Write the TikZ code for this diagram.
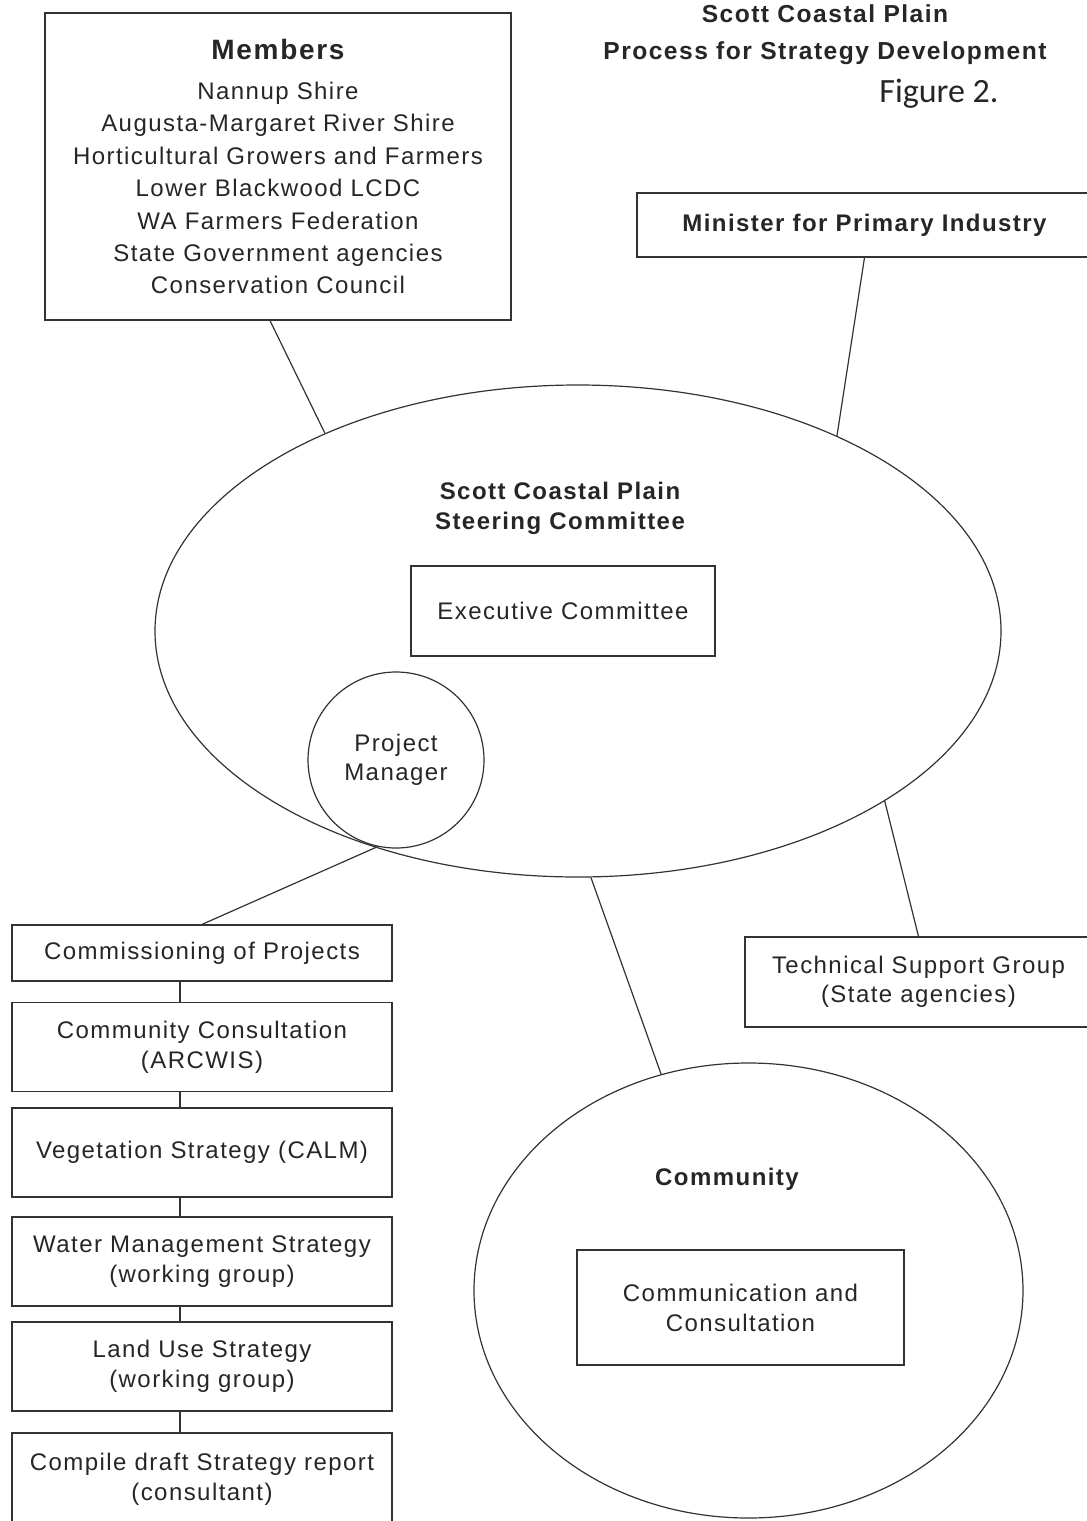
\documentclass[tikz,border=0pt]{standalone}
\usepackage{fontspec}
\setmainfont{Liberation Sans}[LetterSpace=6]
\newfontfamily\figfont{Carlito}
\usetikzlibrary{shapes.geometric}

\tikzset{
  every node/.style={text=black!85},
  link/.style={draw=black!80, line width=0.6pt},
  box/.style={draw=black!80, line width=0.6pt, rectangle, inner sep=0pt, align=center,
    font=\fontsize{12}{15}\selectfont},
  leftbox/.style={box, minimum width=190pt, minimum height=44.5pt},
  heading/.style={align=center, font=\fontsize{12}{15}\selectfont\bfseries},
}

\begin{document}
\begin{tikzpicture}[x=0.5pt, y=-0.5pt]
		\useasboundingbox (0,0) rectangle (1087,1521);
		\fill [white] (0,0) rectangle (1087,1521);
		%\draw [help lines, step=100] (0,0) grid (1087,1521);
		% Titolo
		\node [heading, font=\fontsize{12.3}{18.5}\selectfont\bfseries] (title) at (825,35) {Scott Coastal Plain\\Process for Strategy Development};
		\node [font=\fontsize{17}{20}\figfont] (fig) at (939,94) {Figure 2.};
		% Members
		\node [box, minimum width=233pt, minimum height=153.5pt, font=\fontsize{12}{16.2}\selectfont] (members) at (278,166.5)
			{{\fontsize{14}{16}\selectfont\bfseries Members}\\[4pt]
			 Nannup Shire\\Augusta-Margaret River Shire\\Horticultural Growers and Farmers\\Lower Blackwood LCDC\\WA Farmers Federation\\State Government agencies\\Conservation Council};
		% Minister
		\node [box, minimum width=227.5pt, minimum height=32pt, font=\fontsize{12}{15}\selectfont\bfseries] (minister) at (864.5,225) {Minister for Primary Industry};
		% Steering Committee
		\node [ellipse, draw=black!80, line width=0.6pt, minimum width=423pt, minimum height=246pt, inner sep=0pt] (steer) at (578,631) {};
		\node [heading] (steername) at (560,508) {Scott Coastal Plain\\Steering Committee};
		\node [box, minimum width=152pt, minimum height=45pt] (exec) at (563,611) {Executive Committee};
		\node [circle, draw=black!80, line width=0.6pt, minimum size=88pt, inner sep=0pt, align=center,
			font=\fontsize{12}{14.5}\selectfont] (pm) at (396,760) {Project\\Manager};
		% Technical Support Group
		\node [box, minimum width=173.5pt, minimum height=45pt, font=\fontsize{12}{14.5}\selectfont] (tech) at (918.5,982) {Technical Support Group\\(State agencies)};
		% Community
		\node [ellipse, draw=black!80, line width=0.6pt, minimum width=274.5pt, minimum height=227.5pt, inner sep=0pt] (community) at (748.5,1290.5) {};
		\node [heading] (commname) at (727,1179) {Community};
		\node [box, minimum width=163.5pt, minimum height=57.5pt] (consult) at (740.5,1307.5) {Communication and\\Consultation};
		% Progetti
		\node [leftbox, minimum height=28pt] (projects) at (202,953) {Commissioning of Projects};
		\node [leftbox] (arcwis) at (202,1047) {Community Consultation\\(ARCWIS)};
		\node [leftbox] (veg) at (202,1152.5) {Vegetation Strategy (CALM)};
		\node [leftbox] (water) at (202,1261.5) {Water Management Strategy\\(working group)};
		\node [leftbox] (landuse) at (202,1366.5) {Land Use Strategy\\(working group)};
		\node [leftbox, minimum height=46pt] (draft) at (202,1479) {Compile draft Strategy report\\(consultant)};
		% Collegamenti
		\draw [link] ([xshift=-4pt]members.south) -- (steer.142);
		\draw [link] (minister.south) -- (steer.37);
		\draw [link] (steer.-29) -- (tech.north);
		\draw [link] (steer.-87) -- (community.112);
		\draw [link] (pm.258) -- (projects.north);
		\foreach \a/\b in {projects/arcwis, arcwis/veg, veg/water, water/landuse, landuse/draft}
			\draw [link] ([xshift=-11pt]\a.south) -- ([xshift=-11pt]\b.north);
	\end{tikzpicture}
\end{document}
